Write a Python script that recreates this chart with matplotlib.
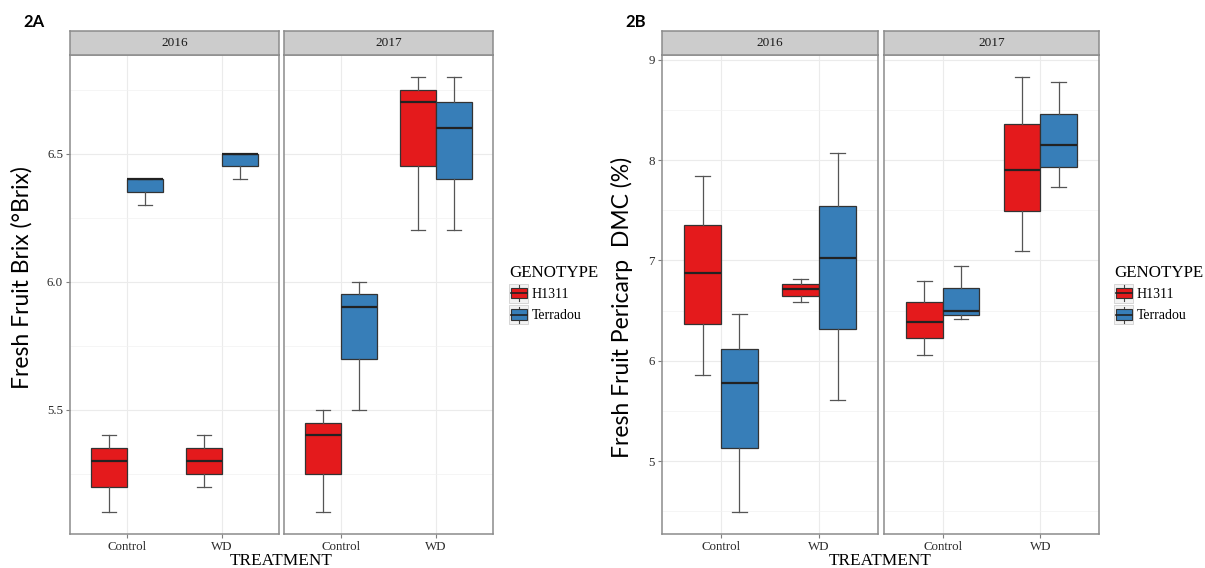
import numpy as np
import matplotlib.pyplot as plt
from matplotlib.patches import Rectangle
from matplotlib.lines import Line2D
from matplotlib.legend_handler import HandlerBase

years = ['2016', '2017']
treatments = ['Control', 'WD']
genotypes = ['H1311', 'Terradou']
geno_colors = ['#E41A1C', '#377EB8']

# box order inside each year: Control-H1311, Control-Terradou, WD-H1311, WD-Terradou
# first four values = 2016, last four = 2017
brix_lo = [5.10, 6.30, 5.20, 6.40, 5.10, 5.50, 6.20, 6.20]
brix_q1 = [5.20, 6.35, 5.25, 6.45, 5.25, 5.70, 6.45, 6.40]
brix_med = [5.30, 6.40, 5.30, 6.50, 5.40, 5.90, 6.70, 6.60]
brix_q3 = [5.35, 6.40, 5.35, 6.50, 5.45, 5.95, 6.75, 6.70]
brix_hi = [5.40, 6.40, 5.40, 6.50, 5.50, 6.00, 6.80, 6.80]

dmc_lo = [5.86, 4.49, 6.59, 5.61, 6.06, 6.42, 7.09, 7.73]
dmc_q1 = [6.37, 5.13, 6.65, 6.32, 6.23, 6.46, 7.49, 7.93]
dmc_med = [6.87, 5.78, 6.71, 7.02, 6.39, 6.50, 7.90, 8.15]
dmc_q3 = [7.35, 6.12, 6.76, 7.54, 6.59, 6.72, 8.36, 8.46]
dmc_hi = [7.84, 6.47, 6.81, 8.07, 6.79, 6.94, 8.83, 8.78]

brix_ticks = [5.5, 6.0, 6.5]
dmc_ticks = [5, 6, 7, 8, 9]

W, H = 1205, 568
serif = 'Liberation Serif'
border = '#8C8C8C'

fig = plt.figure(figsize=(W / 100, H / 100), dpi=100)


def px_axes(x0, x1, y0, y1):
    # pixel box (top-left origin) -> figure axes
    return fig.add_axes([x0 / W, 1 - y1 / H, (x1 - x0) / W, (y1 - y0) / H])


class BoxKey(HandlerBase):
    def create_artists(self, legend, orig_handle, xdescent, ydescent,
                       width, height, fontsize, trans):
        x0, y0 = -xdescent, -ydescent
        bg = Rectangle((x0, y0), width, height, facecolor='#F2F2F2',
                       edgecolor='#D0D0D0', lw=0.6, transform=trans)
        cx = x0 + width / 2
        wl = Line2D([cx, cx], [y0 + 1, y0 + height - 1], color='#444444',
                    lw=0.8, transform=trans)
        box = Rectangle((x0 + width * 0.08, y0 + height * 0.22), width * 0.84,
                        height * 0.56, facecolor=orig_handle.get_facecolor(),
                        edgecolor='#333333', lw=0.8, transform=trans)
        med = Line2D([x0 + width * 0.08, x0 + width * 0.92], [y0 + height / 2] * 2,
                     color='#222222', lw=1.2, transform=trans)
        return [bg, wl, box, med]


def facet_plot(panels, lo, q1, med, q3, hi, ticks, ylabel, ylabel_x,
               ylabel_y, tag, tag_x, legend_x):
    vmin, vmax = min(lo), max(hi)
    pad = (vmax - vmin) * 0.05
    ylim = (vmin - pad, vmax + pad)
    step = ticks[1] - ticks[0]
    minor = np.arange(ticks[0] - step / 2, ylim[1], step)
    offs = [-0.1875, 0.1875]

    for i, (x0, x1) in enumerate(panels):
        ax = px_axes(x0, x1, 55, 534)
        stats = []
        positions = []
        colors = []
        for t in range(2):
            for g in range(2):
                k = i * 4 + t * 2 + g
                stats.append(dict(whislo=lo[k], q1=q1[k], med=med[k],
                                  q3=q3[k], whishi=hi[k], fliers=[]))
                positions.append(t + 1 + offs[g])
                colors.append(geno_colors[g])
        bp = ax.bxp(stats, positions=positions, widths=0.375, capwidths=0.15,
                    patch_artist=True, showfliers=False,
                    boxprops=dict(edgecolor='#333333', linewidth=0.9),
                    medianprops=dict(color='#222222', linewidth=1.6),
                    whiskerprops=dict(color='#555555', linewidth=0.9),
                    capprops=dict(color='#555555', linewidth=0.9),
                    zorder=3)
        for patch, c in zip(bp['boxes'], colors):
            patch.set_facecolor(c)

        ax.set_xlim(0.4, 2.6)
        ax.set_ylim(*ylim)
        ax.set_xticks([1, 2])
        ax.set_xticklabels(treatments, fontfamily=serif, fontsize=9.3,
                           color='#2B2B2B')
        ax.set_yticks(ticks)
        ax.set_yticks(minor, minor=True)
        ax.tick_params(which='minor', length=0)
        ax.tick_params(axis='both', length=3, color='#7F7F7F', width=0.8, pad=2)
        ax.grid(True, which='major', color='#EBEBEB', lw=0.8, zorder=0)
        ax.grid(True, which='minor', axis='y', color='#F2F2F2', lw=0.5, zorder=0)
        ax.set_axisbelow(True)
        if i == 0:
            ax.set_yticklabels([f'{v:g}' if step >= 1 else f'{v:.1f}' for v in ticks],
                               fontfamily=serif, fontsize=9.3, color='#2B2B2B')
        else:
            ax.tick_params(axis='y', left=False, labelleft=False)
        for s in ax.spines.values():
            s.set_color(border)
            s.set_linewidth(1.1)

        strip = px_axes(x0, x1, 31, 55)
        strip.set_facecolor('#CCCCCC')
        strip.set_xticks([])
        strip.set_yticks([])
        for s in strip.spines.values():
            s.set_color(border)
            s.set_linewidth(1.1)
        strip.text(0.5, 0.5, years[i], ha='center', va='center',
                   fontfamily=serif, fontsize=9.5, color='#1A1A1A')

    mid = (panels[0][0] + panels[1][1]) / 2
    fig.text(mid / W, 1 - 561 / H, 'TREATMENT', ha='center', va='center',
             fontfamily=serif, fontsize=12.4)
    fig.text(ylabel_x / W, 1 - ylabel_y / H, ylabel, rotation=90, ha='center',
             va='center', fontfamily='Lato', fontsize=16.5)
    fig.text(tag_x / W, 1 - 22 / H, tag, ha='left', va='center',
             fontfamily='Lato', fontweight='bold', fontsize=12)

    handles = [Rectangle((0, 0), 1, 1, facecolor=c) for c in geno_colors]
    leg = fig.legend(handles, genotypes, handler_map={Rectangle: BoxKey()},
                     loc='upper left', bbox_to_anchor=(legend_x / W, 1 - 265 / H),
                     frameon=False, borderpad=0, borderaxespad=0,
                     handlelength=1.4, handleheight=1.7, handletextpad=0.25,
                     labelspacing=0.2, title='GENOTYPE',
                     prop=dict(family=serif, size=10),
                     title_fontproperties=dict(family=serif, size=12.2))
    leg._legend_box.align = 'left'


facet_plot([(70, 279), (284, 493)], brix_lo, brix_q1, brix_med, brix_q3,
           brix_hi, brix_ticks, 'Fresh Fruit Brix (°Brix)', 22, 278, '2A', 23,
           509)
facet_plot([(662, 878), (884, 1099)], dmc_lo, dmc_q1, dmc_med, dmc_q3,
           dmc_hi, dmc_ticks, 'Fresh Fruit Pericarp  DMC (%)', 622, 307, '2B',
           625, 1114)

fig.savefig('out.png', dpi=100, facecolor='white')
